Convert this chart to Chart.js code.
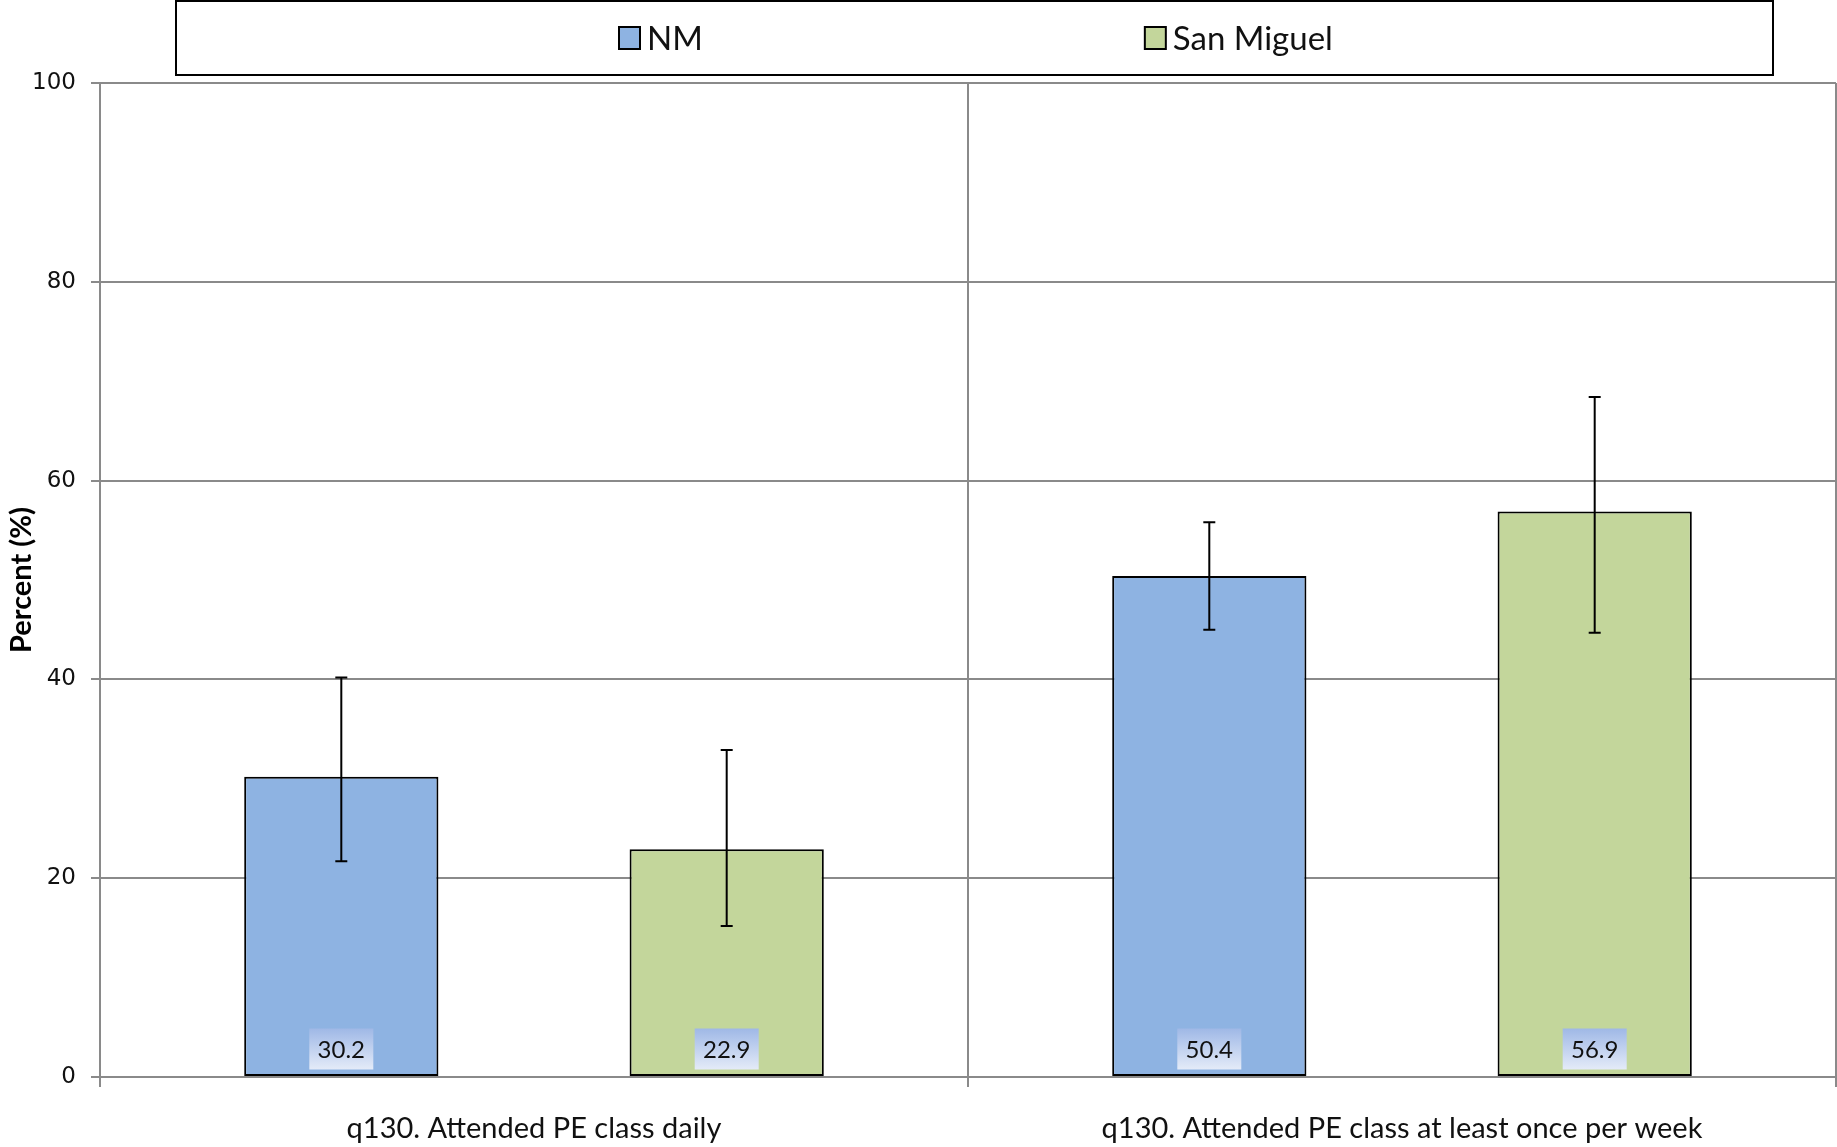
<!DOCTYPE html>
<html><head><meta charset="utf-8">
<script src="https://cdn.jsdelivr.net/npm/chart.js@4.4.1/dist/chart.umd.min.js"></script>
<style>html,body{margin:0;padding:0;background:#fff;} #wrap{width:1837px;height:1147px;position:relative;}</style>
</head><body><div id="wrap"><canvas id="c" width="1837" height="1147"></canvas></div>
<script>
// ---- data ----
const categories = ["q130. Attended PE class daily", "q130. Attended PE class at least once per week"];
const seriesNames = ["NM", "San Miguel"];
const nmValues = [30.2, 50.4];
const smValues = [22.9, 56.9];
const nmLower = [21.7, 45.0];
const nmUpper = [40.2, 55.8];
const smLower = [15.2, 44.7];
const smUpper = [32.9, 68.4];
const yTicks = [0, 20, 40, 60, 80, 100];
const yTitle = "Percent (%)";

const GRID = '#8a8a8a';
const TXT = '#111111';

const errorBars = {
  id: 'errorBars',
  afterDatasetsDraw(chart) {
    const ctx = chart.ctx, y = chart.scales.y;
    chart.data.datasets.forEach((ds, i) => {
      chart.getDatasetMeta(i).data.forEach((bar, j) => {
        const lo = y.getPixelForValue(ds.errLow[j]), hi = y.getPixelForValue(ds.errHigh[j]);
        ctx.save();
        ctx.strokeStyle = '#000'; ctx.lineWidth = 2;
        ctx.beginPath();
        ctx.moveTo(bar.x, lo); ctx.lineTo(bar.x, hi);
        ctx.moveTo(bar.x - 6, lo); ctx.lineTo(bar.x + 6, lo);
        ctx.moveTo(bar.x - 6, hi); ctx.lineTo(bar.x + 6, hi);
        ctx.stroke();
        ctx.restore();
      });
    });
  }
};

const valueLabels = {
  id: 'valueLabels',
  afterDatasetsDraw(chart) {
    const ctx = chart.ctx, y = chart.scales.y;
    const base = y.getPixelForValue(0);
    chart.data.datasets.forEach((ds, i) => {
      chart.getDatasetMeta(i).data.forEach((bar, j) => {
        const w = 64, h = 41, cy = base - 28;
        const x0 = bar.x - w / 2, y0 = cy - h / 2;
        const g = ctx.createLinearGradient(0, y0, 0, y0 + h);
        g.addColorStop(0, '#9fb8e6');
        g.addColorStop(1, '#e4ebf8');
        ctx.save();
        ctx.fillStyle = g;
        ctx.fillRect(x0, y0, w, h);
        ctx.fillStyle = TXT;
        ctx.font = '24px Lato';
        ctx.textAlign = 'center';
        ctx.textBaseline = 'middle';
        ctx.fillText(ds.data[j].toFixed(1), bar.x, cy + 1);
        ctx.restore();
      });
    });
  }
};

const boxLegend = {
  id: 'boxLegend',
  afterDraw(chart) {
    const ctx = chart.ctx;
    const left = 176, right = 1773, top = 1, bottom = 75;
    ctx.save();
    ctx.strokeStyle = '#000'; ctx.lineWidth = 2;
    ctx.strokeRect(left, top, right - left, bottom - top);
    ctx.font = '33px Lato';
    ctx.textBaseline = 'alphabetic';
    const sw = 21, sh = 22, gapText = 7, gapItems = 442;
    const items = chart.data.datasets.map(ds => ({ label: ds.label, color: ds.backgroundColor }));
    let x = left + 443;
    items.forEach((it) => {
      ctx.fillStyle = it.color;
      ctx.fillRect(x, 27, sw, sh);
      ctx.strokeStyle = '#000'; ctx.lineWidth = 2;
      ctx.strokeRect(x, 27, sw, sh);
      ctx.fillStyle = TXT;
      ctx.fillText(it.label, x + sw + gapText, 50);
      x += sw + gapText + ctx.measureText(it.label).width + gapItems;
    });
    ctx.restore();
  }
};

function build() {
  new Chart(document.getElementById('c'), {
    type: 'bar',
    data: {
      labels: categories,
      datasets: [
        { label: seriesNames[0], data: nmValues, errLow: nmLower, errHigh: nmUpper,
          backgroundColor: '#8eb3e2', borderColor: '#000', borderWidth: 2, borderSkipped: false },
        { label: seriesNames[1], data: smValues, errLow: smLower, errHigh: smUpper,
          backgroundColor: '#c3d69b', borderColor: '#000', borderWidth: 2, borderSkipped: false }
      ]
    },
    options: {
      responsive: false,
      animation: false,
      devicePixelRatio: 1,
      categoryPercentage: 0.888,
      barPercentage: 0.504,
      layout: { padding: { top: 83, right: 1, left: 0, bottom: 0 } },
      plugins: { legend: { display: false }, tooltip: { enabled: false } },
      scales: {
        x: {
          afterFit: s => { s.height = 70; },
          grid: { display: true, offset: true, color: GRID, lineWidth: 2, tickLength: 10, drawOnChartArea: true },
          border: { display: true, color: GRID, width: 2 },
          ticks: { color: TXT, font: { family: 'Lato', size: 29 }, padding: 24, maxRotation: 0 }
        },
        y: {
          min: 0, max: 100,
          afterFit: s => { s.width = 100; },
          afterBuildTicks: s => { s.ticks = yTicks.map(v => ({ value: v })); },
          grid: { color: GRID, lineWidth: 2, tickLength: 9 },
          border: { display: true, color: GRID, width: 2 },
          ticks: { color: TXT, font: { family: 'DejaVu Sans', size: 23 }, padding: 15 },
          title: { display: true, text: yTitle, color: '#000', font: { family: 'Lato', size: 29, weight: 'bold' }, padding: { top: 4, bottom: 0 } }
        }
      }
    },
    plugins: [errorBars, valueLabels, boxLegend]
  });
}
Promise.all([
  document.fonts.load('24px Lato'), document.fonts.load('bold 24px Lato'), document.fonts.load('20px "DejaVu Sans"')
]).then(build, build);
</script>
</body></html>
